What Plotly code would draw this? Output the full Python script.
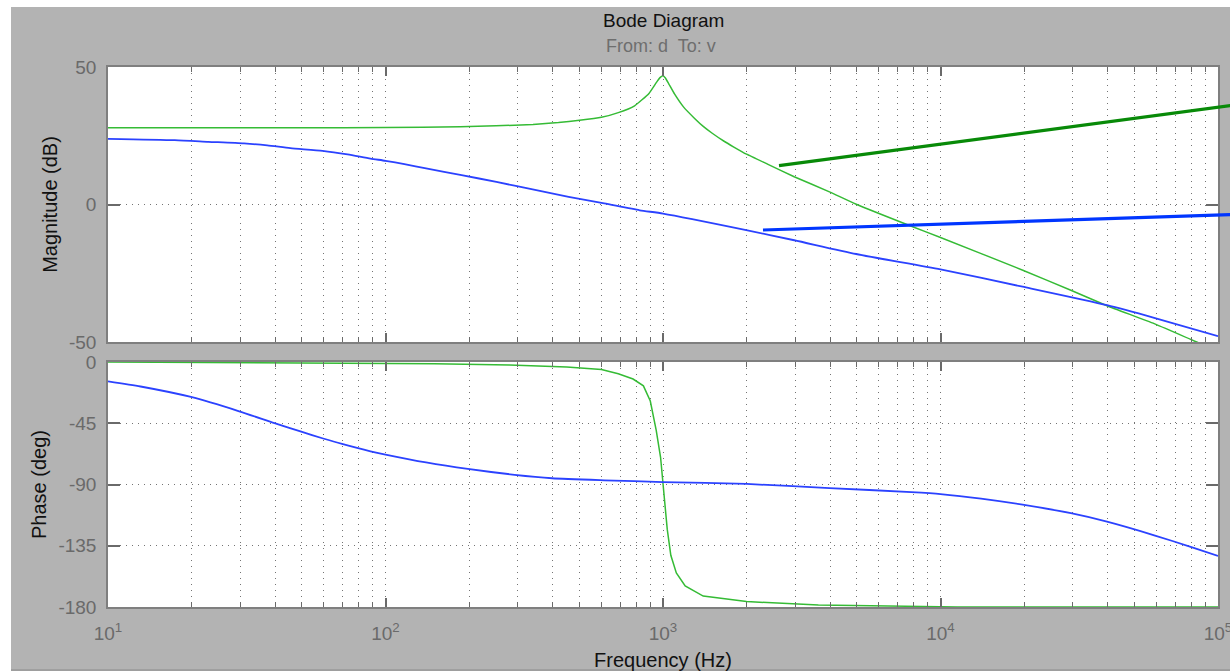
import plotly.graph_objects as go

# ---- Bode data: d -> v ----
# Resonant path (green): magnitude
green_mag_f = [10, 50, 100, 186, 250, 340, 420, 500, 600, 690, 790, 890, 950, 980,
               1000, 1020, 1050, 1100, 1185, 1300, 1400, 1500, 1660, 1800, 2000, 2390,
               2970, 3980, 4970, 7850, 10000, 19800, 29500, 39800, 58900, 85100, 100000]
green_mag_db = [27.9, 27.9, 28.0, 28.3, 28.6, 29.1, 29.8, 30.6, 31.7, 33.4, 35.9, 40.4,
                44.6, 46.3, 46.8, 46.0, 43.8, 40.2, 35.5, 31.3, 28.3, 26.0, 23.0, 20.9,
                18.3, 14.6, 10.1, 4.6, 0.1, -7.9, -12.0, -23.9, -31.2, -36.8, -43.3,
                -50.3, -53.0]

# Resonant path (green): phase
green_ph_f = [10, 80, 150, 280, 450, 600, 690, 780, 850, 900, 945, 980, 1000, 1020,
              1036, 1067, 1117, 1202, 1396, 2000, 3630, 11500, 100000]
green_ph_deg = [0.0, -0.5, -1.2, -2.2, -3.7, -5.5, -8.7, -12.5, -17.5, -28.7, -50.0,
                -70.0, -90.0, -108.0, -123.0, -142.0, -155.0, -164.5, -172.0, -176.0,
                -178.5, -180.0, -180.0]

# Damped path (blue): magnitude
blue_mag_f = [10, 17.4, 23, 30.9, 37.5, 45.4, 59.3, 73, 88.3, 100, 117, 140, 188, 251,
              339, 457, 614, 824, 1000, 1995, 2972, 4966, 10000, 19770, 39810, 58880,
              100000]
blue_mag_db = [23.9, 23.4, 22.8, 22.2, 21.5, 20.5, 19.5, 18.2, 16.7, 15.9, 14.7, 13.1,
               10.7, 8.2, 5.5, 2.8, 0.4, -2.1, -3.3, -9.3, -13.0, -18.0, -23.6, -29.9,
               -36.6, -41.2, -47.9]

# Damped path (blue): phase
blue_ph_f = [10, 13.1, 19.9, 29.7, 39.8, 49.7, 59.6, 69.7, 88.3, 100, 140, 198, 292,
             398, 614, 1000, 2000, 3980, 7850, 10000, 14000, 19770, 29500, 39800, 58900,
             80200, 100000]
blue_ph_deg = [-14.2, -18.0, -25.7, -36.2, -44.9, -51.2, -56.2, -60.2, -65.6, -68.0,
               -73.8, -78.6, -82.9, -85.4, -86.9, -88.2, -89.6, -92.6, -95.6, -97.0,
               -100.3, -104.8, -111.1, -117.3, -127.3, -136.0, -142.5]

# Axis ticks
decades = [10, 100, 1000, 10000, 100000]
decade_labels = ["10<sup>1</sup>", "10<sup>2</sup>", "10<sup>3</sup>",
                 "10<sup>4</sup>", "10<sup>5</sup>"]
minor_vals = [m * d for d in decades[:-1] for m in range(2, 10)]
mag_ticks = [-50, 0, 50]
mag_labels = ["-50", "0", "50"]
phase_ticks = [0, -45, -90, -135, -180]
phase_labels = ["0", "-45", "-90", "-135", "-180"]

# ---- figure geometry (pixels) ----
W, H = 1230, 671
ML, MR, MT, MB = 108, 12, 67, 64
PW = W - ML - MR
PH = H - MT - MB


def px_x(px):
    return (px - ML) / PW


def px_y(py):
    return (H - MB - py) / PH


BG = "#b3b3b3"
AXC = "#7f7f7f"
GRIDC = "#747474"
TICKC = "#6a6a6a"
FONT = "Liberation Sans"
GREEN = "#35bb35"
BLUE = "#2b42ff"

fig = go.Figure()
fig.add_trace(go.Scatter(x=green_mag_f, y=green_mag_db, mode="lines",
                         line=dict(color=GREEN, width=1.5, shape="spline", smoothing=0.4),
                         xaxis="x", yaxis="y", showlegend=False))
fig.add_trace(go.Scatter(x=blue_mag_f, y=blue_mag_db, mode="lines",
                         line=dict(color=BLUE, width=1.8, shape="spline", smoothing=0.6),
                         xaxis="x", yaxis="y", showlegend=False))
fig.add_trace(go.Scatter(x=green_ph_f, y=green_ph_deg, mode="lines",
                         line=dict(color=GREEN, width=1.5), xaxis="x2", yaxis="y2",
                         showlegend=False))
fig.add_trace(go.Scatter(x=blue_ph_f, y=blue_ph_deg, mode="lines",
                         line=dict(color=BLUE, width=1.8, shape="spline", smoothing=0.6),
                         xaxis="x2", yaxis="y2", showlegend=False))

tickfont = dict(family=FONT, size=19, color=TICKC)
titlefont = dict(family=FONT, size=20, color="#111111")
griddash = "1px,5px"


def xaxis_cfg(anchor, labels):
    return dict(
        type="log", range=[1, 5], anchor=anchor, automargin=False,
        tickmode="array", tickvals=decades,
        ticktext=decade_labels if labels else [""] * len(decades),
        showticklabels=labels, tickfont=tickfont, ticklabeloverflow="allow",
        ticks="inside", ticklen=9, tickwidth=1.5, tickcolor=TICKC,
        showline=True, linecolor=AXC, linewidth=1.5, mirror="ticks",
        showgrid=True, gridcolor=GRIDC, griddash=griddash, gridwidth=1,
        zeroline=False, ticklabelstandoff=8,
        minor=dict(tickmode="array", tickvals=minor_vals, ticks="inside", ticklen=5,
                   tickwidth=1.2, tickcolor=TICKC, showgrid=True, gridcolor=GRIDC,
                   griddash=griddash, gridwidth=1),
    )


def yaxis_cfg(domain, rng, vals, text, title, anchor):
    return dict(
        domain=domain, range=rng, anchor=anchor, automargin=False,
        tickmode="array", tickvals=vals, ticktext=text, tickfont=tickfont,
        ticklabeloverflow="allow",
        ticks="inside", ticklen=12, tickwidth=1.5, tickcolor=TICKC,
        showline=True, linecolor=AXC, linewidth=1.5, mirror="ticks",
        showgrid=True, gridcolor=GRIDC, griddash=griddash, gridwidth=1,
        zeroline=False, ticklabelstandoff=6,
        title=dict(text=title, font=titlefont, standoff=6),
    )


fig.update_layout(
    width=W, height=H,
    margin=dict(l=ML, r=MR, t=MT, b=MB, pad=0, autoexpand=False),
    paper_bgcolor=BG, plot_bgcolor="white",
    xaxis=xaxis_cfg("y", False),
    xaxis2=dict(xaxis_cfg("y2", True), matches="x",
                title=dict(text="Frequency (Hz)", font=titlefont, standoff=14)),
    yaxis=yaxis_cfg([px_y(342), 1.0], [-50, 50], mag_ticks, mag_labels,
                    "Magnitude (dB)", "x"),
    yaxis2=yaxis_cfg([0.0, px_y(362)], [-180, 0], phase_ticks, phase_labels,
                     "Phase (deg)", "x2"),
    showlegend=False,
)

fig.add_annotation(text="Bode Diagram", xref="paper", yref="paper",
                   x=px_x(663), y=px_y(21), showarrow=False, xanchor="center",
                   yanchor="middle", font=dict(family=FONT, size=19, color="#111111"))
fig.add_annotation(text="From: d  To: v", xref="paper", yref="paper",
                   x=px_x(661), y=px_y(46), showarrow=False, xanchor="center",
                   yanchor="middle", font=dict(family=FONT, size=18, color="#6e6e6e"))

# Pointer lines running off the right edge
fig.add_shape(type="line", xref="paper", yref="paper",
              x0=px_x(779), y0=px_y(165.7), x1=px_x(1240), y1=px_y(104.4),
              line=dict(color="#088a08", width=3.2), layer="above")
fig.add_shape(type="line", xref="paper", yref="paper",
              x0=px_x(763), y0=px_y(230), x1=px_x(1240), y1=px_y(214.2),
              line=dict(color="#0036ff", width=3.2), layer="above")

# Window frame: white strips on left/top, darker line at the bottom
fig.add_shape(type="rect", xref="paper", yref="paper",
              x0=px_x(-5), x1=px_x(11), y0=px_y(680), y1=px_y(-5),
              fillcolor="white", line=dict(width=0), layer="above")
fig.add_shape(type="rect", xref="paper", yref="paper",
              x0=px_x(-5), x1=px_x(1240), y0=px_y(7), y1=px_y(-5),
              fillcolor="white", line=dict(width=0), layer="above")
fig.add_shape(type="line", xref="paper", yref="paper",
              x0=px_x(11), x1=px_x(1240), y0=px_y(670), y1=px_y(670),
              line=dict(color="#8a8a8a", width=1), layer="above")

fig.write_html("out.html")
